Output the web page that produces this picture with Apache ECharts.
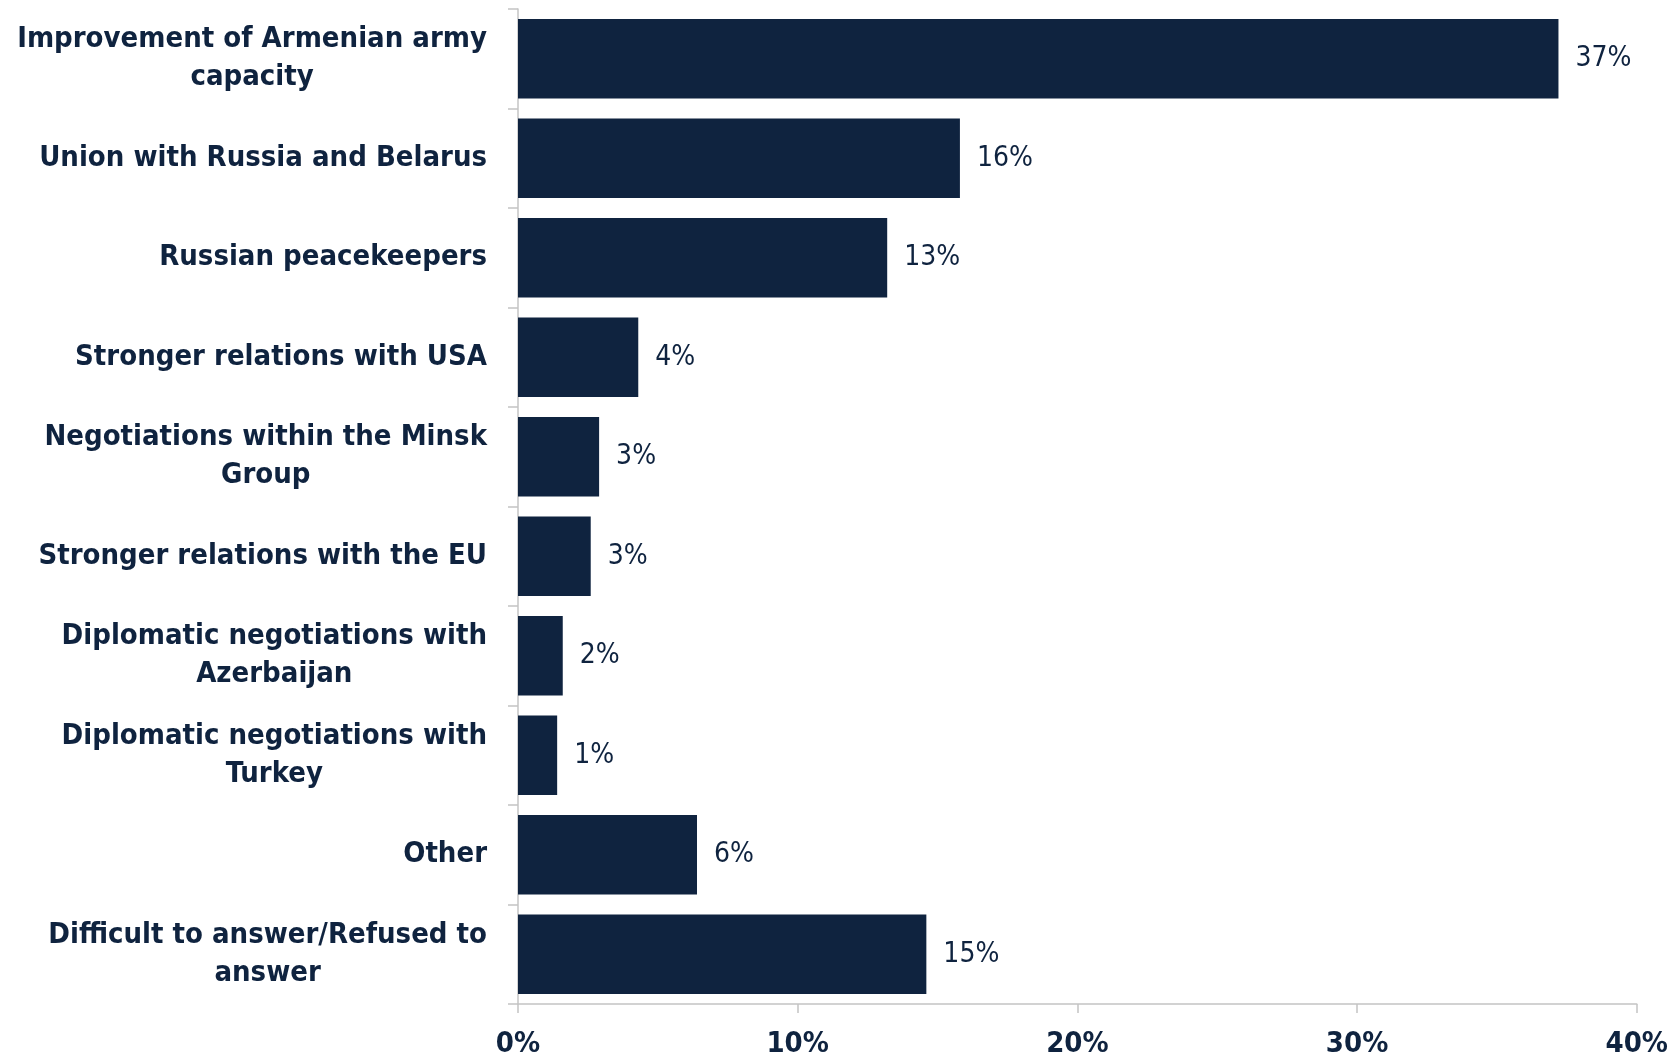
<!DOCTYPE html>
<html>
<head>
<meta charset="utf-8">
<script src="https://cdn.jsdelivr.net/npm/echarts@6/dist/echarts.min.js"></script>
<style>
html,body{margin:0;padding:0;background:#fff;}
#c{width:1671px;height:1059px;}
</style>
</head>
<body>
<div id="c"></div>
<script>
const categories = [
  "Improvement of Armenian army\ncapacity",
  "Union with Russia and Belarus",
  "Russian peacekeepers",
  "Stronger relations with USA",
  "Negotiations within the Minsk\nGroup",
  "Stronger relations with the EU",
  "Diplomatic negotiations with\nAzerbaijan",
  "Diplomatic negotiations with\nTurkey",
  "Other",
  "Difficult to answer/Refused to\nanswer"
];
const values = [37.2, 15.8, 13.2, 4.3, 2.9, 2.6, 1.6, 1.4, 6.4, 14.6];
const xTicks = [0, 10, 20, 30, 40];

const navy = '#0f233f';
const font = '"DejaVu Sans Condensed", "DejaVu Sans", sans-serif';
const chart = echarts.init(document.getElementById('c'), null, {renderer: 'canvas'});
chart.setOption({
  animation: false,
  backgroundColor: '#fff',
  grid: {left: 518, right: 33, top: 9, bottom: 52, containLabel: false},
  xAxis: {
    type: 'value', min: xTicks[0], max: xTicks[xTicks.length - 1], interval: 10,
    splitLine: {show: false},
    axisLine: {show: true, lineStyle: {color: '#c4c4c4', width: 1.5}},
    axisTick: {show: true, length: 9, lineStyle: {color: '#c4c4c4', width: 1.5}},
    axisLabel: {formatter: v => v + '%', color: navy, fontFamily: font, fontWeight: 'bold', fontSize: 29, margin: 26}
  },
  yAxis: {
    type: 'category', inverse: true, data: categories,
    axisLine: {show: true, lineStyle: {color: '#c4c4c4', width: 1.5}},
    axisTick: {show: true, length: 10, lineStyle: {color: '#c4c4c4', width: 1.5}},
    axisLabel: {
      margin: 31, align: 'right',
      formatter: v => v.split('\n').map(l => '{c|' + l + '}').join('\n'),
      rich: {c: {color: navy, fontFamily: font, fontWeight: 'bold', fontSize: 29, lineHeight: 38, align: 'center'}}
    }
  },
  series: [{
    type: 'bar', data: values, barCategoryGap: '20%',
    itemStyle: {color: navy},
    label: {show: true, position: 'right', distance: 17, color: navy, fontFamily: font, fontSize: 28,
      formatter: p => Math.round(p.value) + '%'}
  }]
});
</script>
</body>
</html>
